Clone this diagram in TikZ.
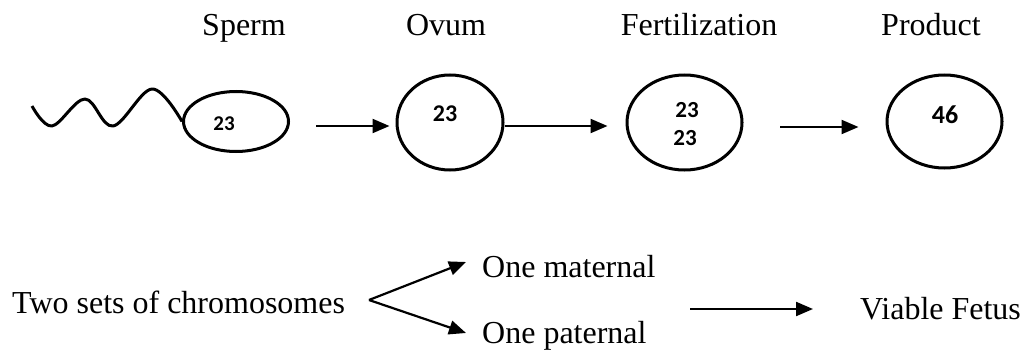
\documentclass[tikz,border=0pt]{standalone}
\usepackage{fontspec}
\setmainfont{Liberation Serif}
\newfontfamily\numfont{Carlito}
\usetikzlibrary{arrows.meta,shapes.geometric}
\begin{document}
\begin{tikzpicture}[x=1pt,y=-1pt,
  cell/.style={draw,line width=3pt,ellipse,inner sep=0pt},
  arr/.style={line width=2.2pt,-{Triangle[length=17pt,width=14pt]}},
  lbl/.style={font=\fontsize{32}{36}\selectfont,inner sep=0pt},
  num/.style={font=\numfont\bfseries\fontsize{24}{26}\selectfont,inner sep=0pt},
  txt/.style={font=\fontsize{32}{36}\selectfont,inner sep=0pt,anchor=base west}]
\useasboundingbox (0,0) rectangle (1024,353);
% headers
\node[lbl,anchor=base] (hs) at (244,36) {Sperm};
\node[lbl,anchor=base] (ho) at (446,36) {Ovum};
\node[lbl,anchor=base] (hf) at (699,36) {Fertilization};
\node[lbl,anchor=base] (hp) at (931,36) {Product};
% cells
\node[cell,minimum width=105pt,minimum height=60pt] (sperm) at (236,121.5) {};
\node[cell,minimum width=106pt,minimum height=95pt] (ovum) at (450,122.5) {};
\node[cell,minimum width=115pt,minimum height=95pt] (fert) at (684.5,122.5) {};
\node[cell,minimum width=115pt,minimum height=93pt] (prod) at (944.5,121.5) {};
% numbers
\node[num,font=\numfont\bfseries\fontsize{21}{23}\selectfont] (n1) at (224,124) {23};
\node[num] (n2) at (445,114) {23};
\node[num,font=\numfont\bfseries\fontsize{23}{25}\selectfont] (n3a) at (687,110) {23};
\node[num,font=\numfont\bfseries\fontsize{23}{25}\selectfont] (n3b) at (685,138) {23};
\node[num,font=\numfont\bfseries\fontsize{26}{28}\selectfont] (n4) at (945,115) {46};
% tail
\draw[line width=3pt,line join=round] plot[smooth,tension=0.6] coordinates {(32,106) (52,126) (85,99) (113,126) (152,89) (sperm.west)};
% arrows top
\coordinate (a1) at (316,126);
\draw[arr] (a1) -- ([xshift=-6pt]ovum.west |- a1);
\draw[arr] (ovum.east |- a1) -- ([xshift=-18pt]fert.west |- a1);
\coordinate (a3) at (780,127);
\draw[arr] (a3) -- ([xshift=-27pt]prod.west |- a3);
% bottom
\node[txt] (two) at (12,313) {Two sets of chromosomes};
\node[txt] (mat) at (482,277) {One maternal};
\node[txt] (pat) at (482,343) {One paternal};
\node[txt] (via) at (860,319) {Viable Fetus};
\coordinate (br) at (369,300);
\coordinate (tm) at (466,262);
\coordinate (tp) at (466,333);
\draw[arr] (br) -- (tm);
\draw[arr] (br) -- (tp);
\coordinate (a4) at (690,309);
\coordinate (a4e) at (813,309);
\draw[arr] (a4) -- (a4e);
\end{tikzpicture}
\end{document}
